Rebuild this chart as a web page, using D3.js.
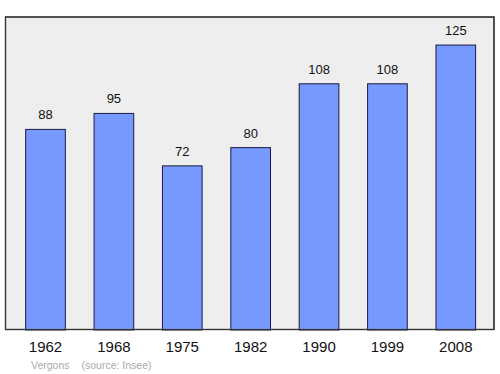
<!DOCTYPE html>
<html><head><meta charset="utf-8">
<script src="https://cdn.jsdelivr.net/npm/d3@7"></script>
<style>body{margin:0;background:#fff}svg{display:block;font-family:"Liberation Sans",Arial,sans-serif}</style>
</head><body>
<svg id="c" width="500" height="374"></svg>
<script>
const years = ["1962","1968","1975","1982","1990","1999","2008"];
const population = [88,95,72,80,108,108,125];
const place = "Vergons";
const source = "(source: Insee)";

const svg = d3.select("#c");
const x = d3.scaleBand().domain(years).range([11.3, 490]).paddingInner(0.42).paddingOuter(0.21);
const y = d3.scaleLinear().domain([0, 137.3]).range([330, 17]);

svg.append("rect").attr("x",5.5).attr("y",17).attr("width",488.5).attr("height",312.5)
  .attr("fill","#eeeeee").attr("stroke","#333").attr("stroke-width",1.2);

svg.selectAll("rect.bar").data(population).join("rect").attr("class","bar")
  .attr("x",(d,i)=>x(years[i])).attr("width",x.bandwidth())
  .attr("y",d=>y(d)).attr("height",d=>y(0)-y(d))
  .attr("fill","#7799ff").attr("stroke","#1a1a40").attr("stroke-width",1);

svg.append("rect").attr("x",5.5).attr("y",17).attr("width",488.5).attr("height",312.5)
  .attr("fill","none").attr("stroke","#333").attr("stroke-width",1.2);

svg.selectAll("text.val").data(population).join("text").attr("class","val")
  .attr("x",(d,i)=>x(years[i])+x.bandwidth()/2).attr("y",d=>y(d)-10)
  .attr("text-anchor","middle").attr("font-size",13).attr("fill","#111").text(d=>d);

const ax = svg.append("g").attr("transform","translate(0,330)")
  .call(d3.axisBottom(x).tickSize(0).tickPadding(11));
ax.select(".domain").remove();
ax.selectAll("text").attr("font-size",15).attr("fill","#111").attr("font-family","Liberation Sans, Arial, sans-serif");

svg.append("text").attr("x",31).attr("y",369).attr("font-size",10.5).attr("fill","#aaa").text(place);
svg.append("text").attr("x",81.5).attr("y",369).attr("font-size",10.5).attr("fill","#aaa").text(source);
</script>
</body></html>
